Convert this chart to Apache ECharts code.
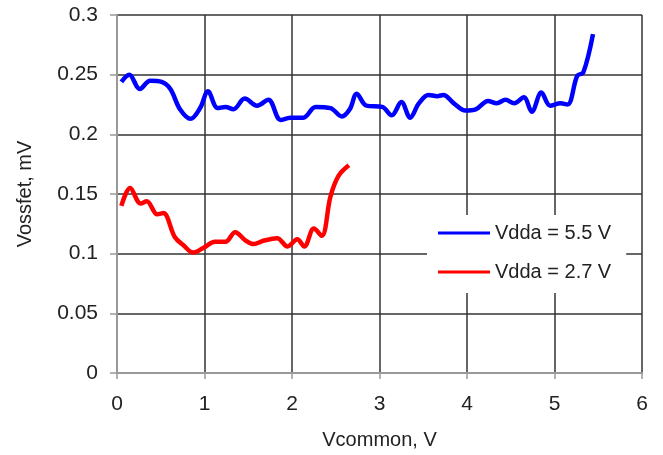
<!DOCTYPE html>
<html>
<head>
<meta charset="utf-8">
<script src="https://cdn.jsdelivr.net/npm/echarts@6/dist/echarts.min.js"></script>
<style>
  html, body { margin: 0; padding: 0; background: #fff; }
  #chart { width: 663px; height: 455px; }
</style>
</head>
<body>
<div id="chart"></div>
<script>
// Input offset voltage vs. common-mode voltage for two supply voltages
const seriesNames = ['Vdda = 5.5 V', 'Vdda = 2.7 V'];

const vcommon55 = [0.05, 0.14, 0.26, 0.38, 0.51, 0.61, 0.72, 0.84, 0.95, 1.04, 1.15, 1.24, 1.33, 1.46, 1.60, 1.73, 1.87, 1.98, 2.13, 2.27, 2.44, 2.57, 2.66, 2.74, 2.85, 3.03, 3.14, 3.25, 3.35, 3.45, 3.56, 3.66, 3.73, 3.85, 3.98, 4.10, 4.24, 4.34, 4.44, 4.54, 4.65, 4.74, 4.85, 4.95, 5.07, 5.15, 5.26, 5.33, 5.44];
const vossfet55 = [0.244, 0.250, 0.238, 0.245, 0.244, 0.238, 0.221, 0.213, 0.222, 0.236, 0.222, 0.223, 0.221, 0.230, 0.224, 0.229, 0.212, 0.214, 0.214, 0.223, 0.222, 0.215, 0.221, 0.234, 0.224, 0.223, 0.216, 0.227, 0.214, 0.226, 0.233, 0.232, 0.233, 0.226, 0.220, 0.221, 0.228, 0.226, 0.229, 0.226, 0.231, 0.219, 0.235, 0.224, 0.226, 0.225, 0.249, 0.252, 0.284];

const vcommon27 = [0.05, 0.15, 0.27, 0.34, 0.46, 0.53, 0.66, 0.76, 0.87, 0.99, 1.12, 1.24, 1.35, 1.47, 1.56, 1.68, 1.83, 1.95, 2.06, 2.14, 2.25, 2.34, 2.44, 2.53, 2.65];
const vossfet27 = [0.140, 0.155, 0.142, 0.144, 0.133, 0.134, 0.114, 0.107, 0.101, 0.105, 0.110, 0.110, 0.118, 0.111, 0.108, 0.111, 0.113, 0.106, 0.112, 0.106, 0.121, 0.115, 0.148, 0.165, 0.174];

const pairs = (xs, ys) => xs.map((x, i) => [x, ys[i]]);

const FONT = "'Liberation Sans', Arial, sans-serif";
const TEXT = '#222';
const GRID = '#333';
const AXIS = '#999';

const chart = echarts.init(document.getElementById('chart'), null, { renderer: 'canvas' });

chart.setOption({
  animation: false,
  backgroundColor: '#fff',
  textStyle: { fontFamily: FONT },
  grid: { left: 117, right: 21, top: 15, bottom: 80.5, containLabel: false },
  xAxis: {
    type: 'value', min: 0, max: 6, interval: 1,
    name: 'Vcommon, V', nameLocation: 'middle', nameGap: 57,
    nameTextStyle: { fontSize: 20, color: TEXT, fontFamily: FONT },
    axisLine: { show: true, onZero: false, lineStyle: { color: AXIS, width: 2 } },
    axisTick: { show: true, inside: false, length: 6, lineStyle: { color: AXIS, width: 1.5 } },
    axisLabel: { fontSize: 21, color: TEXT, margin: 21, fontFamily: FONT },
    splitLine: { show: true, showMinLine: false, lineStyle: { color: GRID, width: 1.5 } }
  },
  yAxis: {
    type: 'value', min: 0, max: 0.3, interval: 0.05,
    name: 'Vossfet, mV', nameLocation: 'middle', nameGap: 82, nameRotate: 90,
    nameTextStyle: { fontSize: 20, color: TEXT, fontFamily: FONT },
    axisLine: { show: true, lineStyle: { color: AXIS, width: 2 } },
    axisTick: { show: true, inside: false, length: 7, lineStyle: { color: AXIS, width: 1.5 } },
    axisLabel: { fontSize: 21, color: TEXT, margin: 19, fontFamily: FONT },
    splitLine: { show: true, showMinLine: false, lineStyle: { color: GRID, width: 1.5 } }
  },
  legend: {
    orient: 'vertical',
    left: 427, top: 215,
    backgroundColor: '#fff',
    padding: [8, 15, 11, 11],
    itemWidth: 52, itemHeight: 3, itemGap: 19,
    icon: 'rect',
    textStyle: { fontSize: 20, color: TEXT, fontFamily: FONT, padding: [0, 0, 0, 0] },
    data: seriesNames
  },
  series: [
    {
      name: seriesNames[0], type: 'line', smooth: 0.35, showSymbol: false, symbol: 'none',
      lineStyle: { color: '#0000ff', width: 4.5 }, itemStyle: { color: '#0000ff' },
      data: pairs(vcommon55, vossfet55)
    },
    {
      name: seriesNames[1], type: 'line', smooth: 0.35, showSymbol: false, symbol: 'none',
      lineStyle: { color: '#ff0000', width: 4.5 }, itemStyle: { color: '#ff0000' },
      data: pairs(vcommon27, vossfet27)
    }
  ]
});
</script>
</body>
</html>
